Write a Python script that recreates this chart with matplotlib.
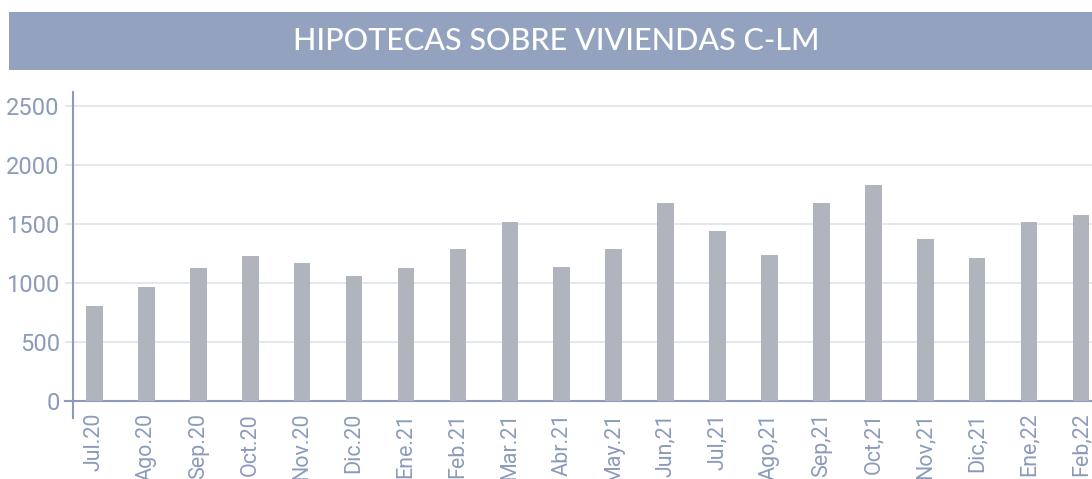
import numpy as np
import matplotlib
matplotlib.use("Agg")
import matplotlib.pyplot as plt
from matplotlib.patches import Rectangle

meses = ["Jul.20", "Ago.20", "Sep.20", "Oct.20", "Nov.20", "Dic.20",
         "Ene.21", "Feb.21", "Mar.21", "Abr.21", "May.21", "Jun,21",
         "Jul,21", "Ago,21", "Sep,21", "Oct,21", "Nov,21", "Dic,21",
         "Ene,22", "Feb,22"]
hipotecas = [810, 970, 1125, 1230, 1170, 1065, 1125, 1290, 1520, 1135,
             1290, 1685, 1445, 1240, 1685, 1835, 1375, 1215, 1520, 1575]
yticks = [0, 500, 1000, 1500, 2000, 2500]

axis_col = "#8c9bba"
grid_col = "#dde3ee"
bar_col = "#b0b5bd"
banner_col = "#93a3bf"

W, H = 1092, 479
fig = plt.figure(figsize=(W/100, H/100), dpi=100)

# banner
fig.patches.append(Rectangle((9/W, 1-70/H), 1-9/W, 58/H, transform=fig.transFigure,
                             facecolor=banner_col, edgecolor="none", zorder=0))
fig.text(556/W, 1-41/H, "HIPOTECAS SOBRE VIVIENDAS C-LM", color="white",
         fontsize=22, family="Lato", fontweight="medium", ha="center", va="center")

ax = fig.add_axes([65/W, (H-418)/H, 1-65/W, (418-92)/H])
x = np.arange(len(meses))
ax.bar(x, hipotecas, width=0.32, color=bar_col, zorder=3)

ax.set_xlim(-0.568, 19.212)
ax.set_ylim(-144, 2623)
ax.set_yticks(yticks)
ax.yaxis.grid(True, color=grid_col, linewidth=1.2, zorder=0)
ax.set_axisbelow(True)

for s in ["top", "right"]:
    ax.spines[s].set_visible(False)
ax.spines["left"].set_position(("axes", 8/(W-65)))
ax.spines["bottom"].set_position(("data", 0))
ax.spines["left"].set_color(axis_col)
ax.spines["bottom"].set_color(axis_col)
ax.spines["left"].set_linewidth(1.5)
ax.spines["bottom"].set_linewidth(1.5)

ax.set_xticks(x)
ax.set_xticklabels(meses, rotation=90, va="top", ha="center")
ax.tick_params(axis="x", length=0, pad=8.5, colors=axis_col, labelsize=15.5)
ax.tick_params(axis="y", length=0, pad=9.5, colors=axis_col, labelsize=17)
for lab in ax.get_xticklabels() + ax.get_yticklabels():
    lab.set_family("Roboto")
    lab.set_fontweight("normal")

fig.savefig("out.png", dpi=100)
